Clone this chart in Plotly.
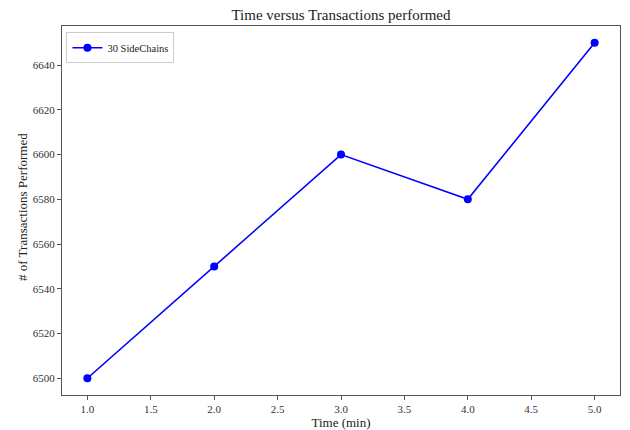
import plotly.graph_objects as go

time_min = [1.0, 2.0, 3.0, 4.0, 5.0]
transactions = [6500, 6550, 6600, 6580, 6650]
series_name = "30 SideChains"
x_ticks = [1.0, 1.5, 2.0, 2.5, 3.0, 3.5, 4.0, 4.5, 5.0]
y_ticks = [6500, 6520, 6540, 6560, 6580, 6600, 6620, 6640]

fig = go.Figure()
fig.add_trace(go.Scatter(
    x=time_min, y=transactions, mode="lines+markers", name=series_name,
    line=dict(color="#0000ff", width=1.6),
    marker=dict(color="#0000ff", size=8),
    showlegend=True,
))

font = "Liberation Serif, Times New Roman, serif"
W, H = 622, 422
L, R, T, B = 54, 10, 18, 35
pw, ph = W - L - R, H - T - B
fig.update_layout(
    width=W, height=H,
    margin=dict(l=L, r=R, t=T, b=B),
    paper_bgcolor="white", plot_bgcolor="white",
    font=dict(family=font, size=11, color="#333333"),
    title=dict(text="Time versus Transactions performed", x=(341 - 8) / W, xanchor="center",
               y=1 - 7/H, yanchor="middle", font=dict(size=15, color="#222222", family=font)),
    showlegend=True,
    legend=dict(x=0.008, y=0.983, xanchor="left", yanchor="top",
                bordercolor="#cccccc", borderwidth=1, bgcolor="white",
                font=dict(size=10.5, color="#222222", family=font)),
    annotations=[dict(
        text="# of Transactions Performed", textangle=-90, showarrow=False,
        xref="paper", yref="paper", x=(14 - L) / pw, y=(H - B - 199) / ph,
        xanchor="center", yanchor="middle",
        font=dict(size=13, color="#222222", family=font),
    )],
)
fig.update_xaxes(
    range=[0.8, 5.2], tickvals=x_ticks, ticktext=[f"{v:.1f}" for v in x_ticks],
    showgrid=False, zeroline=False, showline=True, linecolor="#555555", linewidth=1,
    mirror=True, ticks="outside", ticklen=4, tickcolor="#555555", automargin=False,
    title=dict(text="Time (min)", font=dict(size=13, color="#222222")),
)
fig.update_yaxes(
    range=[6492.5, 6657.5], tickvals=y_ticks,
    showgrid=False, zeroline=False, showline=True, linecolor="#555555", linewidth=1,
    mirror=True, ticks="outside", ticklen=4, tickcolor="#555555", automargin=False,
)
fig.write_html("out.html")
